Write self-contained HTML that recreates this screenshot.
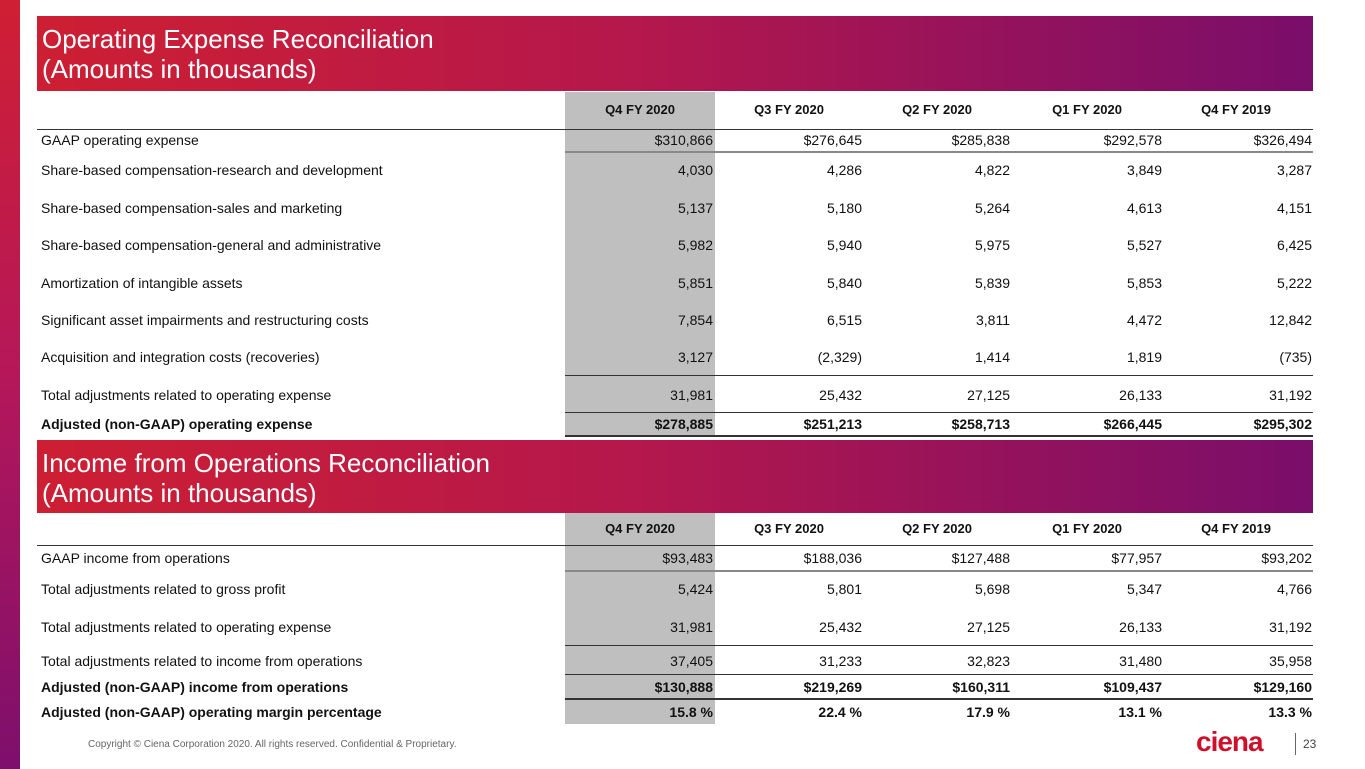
<!DOCTYPE html>
<html><head><meta charset="utf-8">
<style>
html,body{margin:0;padding:0;}
body{width:1365px;height:769px;position:relative;overflow:hidden;background:#fff;font-family:"Liberation Sans",Arial,sans-serif;}
.side{position:absolute;left:0;top:0;width:20px;height:769px;background:linear-gradient(180deg,#cf1f33 0%,#b4175a 50%,#7d0f6c 100%);}
.band{position:absolute;left:37px;width:1276px;background:linear-gradient(90deg,#cd1f33 0%,#b6184b 45%,#7a0e6a 100%);color:#fff;font-size:26px;line-height:30px;padding:8px 0 0 5px;box-sizing:border-box;}
.gray{position:absolute;left:565px;width:150px;background:#bfbfbf;}
.t{position:absolute;font-size:14px;color:#111;white-space:nowrap;line-height:18px;}
.b{font-weight:bold;}
.h{font-size:13px;}
.hl{position:absolute;height:0;}
.foot{position:absolute;left:88px;top:739px;font-size:10px;color:#666;}
.logo{position:absolute;left:1196px;top:726px;font-size:28px;font-weight:bold;color:#d0102b;letter-spacing:-1px;}
.pg{position:absolute;left:1303px;top:737px;font-size:12px;color:#444;}
.vbar{position:absolute;left:1295px;top:733px;width:1px;height:22px;background:#666;}
</style></head>
<body>
<div class="side"></div>
<div class="band" style="top:16px;height:75px;">Operating Expense Reconciliation<br>(Amounts in thousands)</div>
<div class="band" style="top:440px;height:73px;">Income from Operations Reconciliation<br>(Amounts in thousands)</div>
<div class="gray" style="top:92px;height:345px;"></div>
<div class="gray" style="top:513px;height:211px;"></div>
<div id="root"></div>
<div class="foot">Copyright © Ciena Corporation 2020. All rights reserved. Confidential &amp; Proprietary.</div>
<div class="logo">ciena</div>
<div class="vbar"></div>
<div class="pg">23</div>
<script>
const columns = ["Q4 FY 2020","Q3 FY 2020","Q2 FY 2020","Q1 FY 2020","Q4 FY 2019"];
const opexLabels = ["GAAP operating expense","Share-based compensation-research and development","Share-based compensation-sales and marketing","Share-based compensation-general and administrative","Amortization of intangible assets","Significant asset impairments and restructuring costs","Acquisition and integration costs (recoveries)","Total adjustments related to operating expense","Adjusted (non-GAAP) operating expense"];
const opexValues = [
 ["$310,866","$276,645","$285,838","$292,578","$326,494"],
 ["4,030","4,286","4,822","3,849","3,287"],
 ["5,137","5,180","5,264","4,613","4,151"],
 ["5,982","5,940","5,975","5,527","6,425"],
 ["5,851","5,840","5,839","5,853","5,222"],
 ["7,854","6,515","3,811","4,472","12,842"],
 ["3,127","(2,329)","1,414","1,819","(735)"],
 ["31,981","25,432","27,125","26,133","31,192"],
 ["$278,885","$251,213","$258,713","$266,445","$295,302"]];
const incLabels = ["GAAP income from operations","Total adjustments related to gross profit","Total adjustments related to operating expense","Total adjustments related to income from operations","Adjusted (non-GAAP) income from operations","Adjusted (non-GAAP) operating margin percentage"];
const incValues = [
 ["$93,483","$188,036","$127,488","$77,957","$93,202"],
 ["5,424","5,801","5,698","5,347","4,766"],
 ["31,981","25,432","27,125","26,133","31,192"],
 ["37,405","31,233","32,823","31,480","35,958"],
 ["$130,888","$219,269","$160,311","$109,437","$129,160"],
 ["15.8 %","22.4 %","17.9 %","13.1 %","13.3 %"]];

const root = document.getElementById('root');
const colRight = [713, 862, 1010, 1162, 1312];
const colCenter = [640, 789, 937, 1087, 1236];

function txt(s, x, y, cls, right, center){
  const d = document.createElement('div');
  d.className = 't ' + (cls||'');
  d.textContent = s;
  d.style.top = (y - 9) + 'px';
  if (right) { d.style.right = (1365 - x) + 'px'; }
  else if (center) { d.style.left = (x - 60) + 'px'; d.style.width = '120px'; d.style.textAlign = 'center'; }
  else { d.style.left = x + 'px'; }
  root.appendChild(d);
  return d;
}
function line(x1, x2, y, w, color){
  const d = document.createElement('div');
  d.className = 'hl';
  d.style.left = x1 + 'px'; d.style.width = (x2 - x1) + 'px';
  d.style.top = y + 'px';
  d.style.borderTop = w + 'px solid ' + color;
  
  
  root.appendChild(d);
}
function table(prefix, headerY, rowYs, labels, values, boldRows){
  columns.forEach((c, i) => {
    const el = txt(c, colCenter[i], headerY, 'b h', false, true);
    
    
  });
  labels.forEach((lab, r) => {
    const b = boldRows.indexOf(r) >= 0 ? 'b' : '';
    const el = txt(lab, 41, rowYs[r], b);
    
    
    values[r].forEach((v, i) => {
      const c = txt(v, colRight[i], rowYs[r], b, true);
      
      
    });
  });
}
table('opex', 110, [140,170,208,245,283,320,357,395,424], opexLabels, opexValues, [8]);
table('income', 529, [558,589,627,661,687,712], incLabels, incValues, [4,5]);

line(37, 1313, 129, 1, '#333');
line(565, 1313, 151, 2, '#888');
line(565, 1313, 375, 1, '#333');
line(565, 1313, 412, 1, '#333');
line(565, 1313, 435, 2, '#333');
line(37, 1313, 545, 1, '#333');
line(565, 1313, 570, 2, '#888');
line(565, 1313, 645, 1, '#333');
line(565, 1313, 674, 1, '#333');
line(565, 1313, 698, 2, '#333');
</script>
</body></html>
